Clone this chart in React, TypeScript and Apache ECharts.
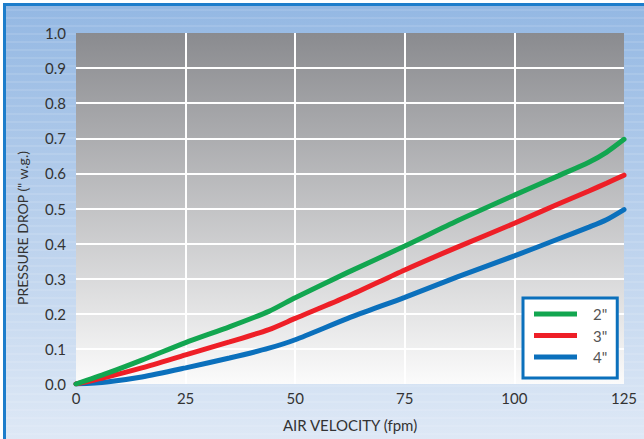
import React, { useEffect, useRef } from "react";
import * as echarts from "echarts";

const velocity = [0, 7, 15, 25, 35, 44, 50, 62, 75, 87, 100, 110, 117, 121, 125];
const drop2in = [0, 0.03, 0.068, 0.118, 0.163, 0.207, 0.246, 0.318, 0.393, 0.465, 0.538, 0.593, 0.632, 0.66, 0.697];
const drop3in = [0, 0.02, 0.046, 0.083, 0.12, 0.155, 0.187, 0.25, 0.325, 0.39, 0.458, 0.513, 0.55, 0.572, 0.595];
const drop4in = [0, 0.006, 0.02, 0.046, 0.074, 0.102, 0.126, 0.187, 0.247, 0.305, 0.365, 0.413, 0.447, 0.468, 0.497];
const seriesNames = ['2"', '3"', '4"'];
const seriesColors = ["#12a650", "#ee1f27", "#0b70bc"];
const xAxisTitle = "AIR VELOCITY (fpm)";
const yAxisTitle = 'PRESSURE DROP (" w.g.)';

const W = 644;
const H = 439;
const FONT = "Lato, 'DejaVu Sans', sans-serif";

export default function App() {
  const ref = useRef<HTMLDivElement>(null);
  useEffect(() => {
    if (!ref.current) return;
    const chart = echarts.init(ref.current, undefined, { renderer: "svg" });
    const stripes: any[] = [];
    for (let y = 10; y < H; y += 8) {
      stripes.push({
        type: "line",
        z: -90,
        silent: true,
        shape: { x1: 6, y1: y, x2: W, y2: y },
        style: { stroke: "rgba(255,255,255,0.22)", lineWidth: 1 },
      });
    }
    const all = [drop2in, drop3in, drop4in];
    chart.setOption({
      animation: false,
      backgroundColor: "#ffffff",
      textStyle: { fontFamily: FONT },
      graphic: {
        elements: [
          {
            type: "rect",
            z: -100,
            silent: true,
            shape: { x: 3, y: 3, width: W, height: H },
            style: { fill: "#1d7dcb" },
          },
          {
            type: "rect",
            z: -99,
            silent: true,
            shape: { x: 6, y: 6, width: W, height: H },
            style: {
              fill: new echarts.graphic.LinearGradient(0, 0, 0, 1, [
                { offset: 0, color: "#94b8e3" },
                { offset: 1, color: "#dfe9f6" },
              ]),
            },
          },
          ...stripes,
          {
            type: "text",
            z: 10,
            silent: true,
            x: 22,
            y: 228,
            rotation: Math.PI / 2,
            style: {
              text: yAxisTitle,
              fontSize: 14,
              fontFamily: FONT,
              fill: "#333333",
              textAlign: "center",
              textVerticalAlign: "middle",
            },
          },
        ],
      },
      grid: {
        left: 76,
        right: W - 624,
        top: 33,
        bottom: H - 384,
        show: true,
        borderWidth: 0,
        outerBoundsMode: "none",
        backgroundColor: new echarts.graphic.LinearGradient(0, 0, 0, 1, [
          { offset: 0, color: "#8a8b8f" },
          { offset: 1, color: "#fbfbfb" },
        ]),
      },
      legend: {
        orient: "vertical",
        left: 523,
        top: 298,
        width: 95,
        data: seriesNames,
        icon: "rect",
        itemWidth: 43,
        itemHeight: 5,
        itemGap: 3.5,
        padding: [7, 10, 12, 11],
        backgroundColor: "#ffffff",
        borderColor: "#0b70bc",
        borderWidth: 3,
        borderRadius: 0,
        selectedMode: false,
        textStyle: {
          fontSize: 15,
          lineHeight: 18,
          color: "#555555",
          fontFamily: FONT,
          padding: [0, 0, 0, 11],
        },
      },
      xAxis: {
        type: "value",
        min: 0,
        max: 125,
        interval: 25,
        name: xAxisTitle,
        nameLocation: "middle",
        nameGap: 33,
        nameTextStyle: { fontSize: 15, color: "#333333", fontFamily: FONT },
        axisLine: { show: false },
        axisTick: { show: false },
        axisLabel: { fontSize: 15, color: "#333333", margin: 6, fontFamily: FONT },
        splitLine: {
          show: true,
          showMinLine: false,
          showMaxLine: false,
          lineStyle: { color: "#ffffff", width: 2 },
        },
      },
      yAxis: {
        type: "value",
        min: 0,
        max: 1,
        interval: 0.1,
        axisLine: { show: false },
        axisTick: { show: false },
        axisLabel: {
          fontSize: 15,
          color: "#333333",
          margin: 10,
          fontFamily: FONT,
          formatter: (v: number) => v.toFixed(1),
        },
        splitLine: {
          show: true,
          showMinLine: false,
          showMaxLine: false,
          lineStyle: { color: "#ffffff", width: 2 },
        },
      },
      series: seriesNames.map((name, i) => ({
        name,
        type: "line",
        data: velocity.map((v, j) => [v, all[i][j]]),
        symbol: "none",
        smooth: 0.25,
        color: seriesColors[i],
        lineStyle: { width: 5, color: seriesColors[i], cap: "round" },
        z: 3 - i + 2,
      })),
    });
    return () => chart.dispose();
  }, []);
  return (
    <div
      ref={ref}
      style={{ position: "absolute", left: 0, top: 0, width: W, height: H }}
    />
  );
}
